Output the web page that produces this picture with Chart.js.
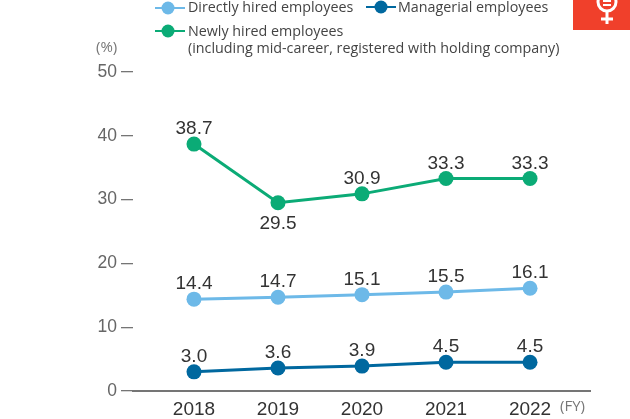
<!DOCTYPE html>
<html><head><meta charset="utf-8">
<style>html,body{margin:0;padding:0;background:#fff}#w{width:630px;height:419px;position:relative}</style>
<script src="https://cdn.jsdelivr.net/npm/chart.js@4"></script></head>
<body><div id="w"><canvas id="c" width="630" height="419"></canvas></div>
<script>
const years = [2018, 2019, 2020, 2021, 2022];
const directlyHired = [14.4, 14.7, 15.1, 15.5, 16.1];
const managerial = [3.0, 3.6, 3.9, 4.5, 4.5];
const newlyHired = [38.7, 29.5, 30.9, 33.3, 33.3];
const yTicks = [0, 10, 20, 30, 40, 50];
const seriesNames = ['Directly hired employees', 'Managerial employees', 'Newly hired employees'];
const legendNote = '(including mid-career, registered with holding company)';
const unitY = '(%)', unitX = '(FY)';
const BLUE = '#6db9e8', NAVY = '#00689f', GREEN = '#0bab76', GREY = '#757575';
const UI = '"Open Sans","Noto Sans",sans-serif', NUM = '"Liberation Sans",Arial,sans-serif';
const labelsBelow = { 2: [1] };

const toPoints = v => v.map((y, i) => ({ x: years[i], y }));
const ds = (label, data, color) => ({ label, data: toPoints(data), borderColor: color, backgroundColor: color,
  borderWidth: 3, pointRadius: 7.5, pointHoverRadius: 7.5, pointBorderWidth: 0, tension: 0, clip: false });

const annotate = {
  id: 'annotate',
  afterDatasetsDraw(ch) {
    const c = ch.ctx; c.save();
    c.textBaseline = 'alphabetic'; c.textAlign = 'center'; c.fillStyle = '#333';
    c.font = '19px ' + NUM;
    ch.data.datasets.forEach((d, di) => {
      ch.getDatasetMeta(di).data.forEach((p, i) => {
        const below = (labelsBelow[di] || []).includes(i);
        c.fillText(d.data[i].y.toFixed(1), p.x, below ? p.y + 26 : p.y - 10);
      });
    });
    const swatch = (x0, x1, cx, y, col) => {
      c.strokeStyle = col; c.lineWidth = 2; c.beginPath(); c.moveTo(x0, y); c.lineTo(x1, y); c.stroke();
      c.fillStyle = col; c.beginPath(); c.arc(cx, y, 6.5, 0, Math.PI * 2); c.fill();
    };
    swatch(155, 185, 168, 8, BLUE); swatch(366, 396, 381, 7, NAVY); swatch(155, 185, 168, 31, GREEN);
    c.textAlign = 'left'; c.fillStyle = '#444'; c.font = '14.3px ' + UI;
    c.fillText(seriesNames[0], 188, 12);
    c.fillText(seriesNames[1], 398, 12);
    c.fillText(seriesNames[2], 188, 36);
    c.fillText(legendNote, 188, 53);
    c.fillStyle = '#777'; c.font = '15px ' + UI;
    c.fillText(unitY, 96, 52);
    c.fillText(unitX, 560, 411);
    // red SDG badge
    c.fillStyle = '#f0402b'; c.fillRect(573, 0, 57, 30);
    c.strokeStyle = '#fff'; c.lineWidth = 3;
    c.beginPath(); c.arc(607, 2, 9, 0, Math.PI * 2); c.stroke();
    c.beginPath(); c.moveTo(607, 11); c.lineTo(607, 24); c.moveTo(601, 19); c.lineTo(613, 19); c.stroke();
    c.lineWidth = 2;
    c.beginPath(); c.moveTo(603, 1); c.lineTo(611, 1); c.moveTo(603, 5); c.lineTo(611, 5); c.stroke();
    c.restore();
  }
};

new Chart(document.getElementById('c'), {
  type: 'line',
  data: { datasets: [ds(seriesNames[0], directlyHired, BLUE), ds(seriesNames[1], managerial, NAVY), ds(seriesNames[2], newlyHired, GREEN)] },
  options: {
    responsive: false, animation: false, events: [],
    layout: { padding: { top: 72, right: 40, left: 0, bottom: 0 } },
    plugins: { legend: { display: false }, tooltip: { enabled: false } },
    scales: {
      x: { type: 'linear', min: 2017.274, max: 2022.714,
        afterBuildTicks: a => { a.ticks = years.map(value => ({ value })); },
        afterFit: a => { a.height = 28; },
        border: { display: true, color: GREY, width: 2 },
        grid: { display: false, drawTicks: false },
        ticks: { autoSkip: false, maxRotation: 0, padding: 7, color: '#333', font: { family: NUM, size: 19 }, callback: v => String(v) } },
      y: { min: 0, max: 50,
        afterBuildTicks: a => { a.ticks = yTicks.map(value => ({ value })); },
        afterFit: a => { a.width = 133; },
        border: { display: false },
        grid: { drawOnChartArea: false, drawTicks: true, tickLength: 12, lineWidth: 1.3,
          tickColor: GREY },
        ticks: { padding: 4, color: '#666', font: { family: NUM, size: 17.5 } } }
    }
  },
  plugins: [annotate]
});
</script></body></html>
